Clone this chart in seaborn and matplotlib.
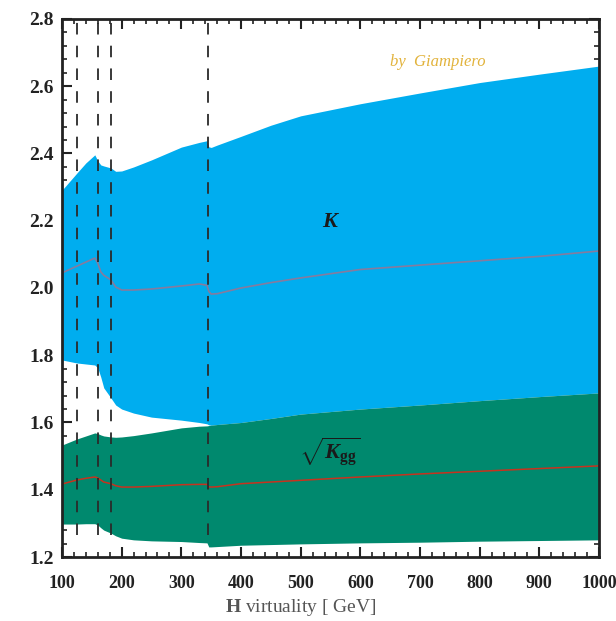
import numpy as np
import pandas as pd
import matplotlib
matplotlib.use('Agg')
import matplotlib.pyplot as plt
import seaborn as sns
from matplotlib.ticker import MultipleLocator

# Higgs virtuality grid [GeV]
mass = [100, 125, 140, 155, 160, 165, 170, 182, 190, 200, 220, 250, 300, 330,
        343, 346, 350, 360, 400, 450, 500, 600, 700, 800, 900, 1000]

# K band (blue) and central value
k_hi = [2.291, 2.342, 2.372, 2.396, 2.378, 2.366, 2.363, 2.357, 2.347, 2.348, 2.360, 2.381, 2.419, 2.433,
        2.438, 2.420, 2.418, 2.425, 2.451, 2.484, 2.512, 2.548, 2.580, 2.611, 2.636, 2.660]
k_lo = [1.786, 1.777, 1.774, 1.771, 1.762, 1.735, 1.703, 1.673, 1.652, 1.640, 1.628, 1.616, 1.607, 1.600,
        1.596, 1.593, 1.592, 1.594, 1.600, 1.612, 1.625, 1.640, 1.652, 1.665, 1.677, 1.688]
k_mid = [2.045, 2.065, 2.077, 2.089, 2.074, 2.048, 2.038, 2.024, 2.003, 1.994, 1.994, 1.997, 2.006, 2.012,
         2.008, 1.990, 1.982, 1.983, 2.000, 2.016, 2.030, 2.055, 2.068, 2.081, 2.094, 2.110]

# sqrt(K_gg) band (green) and central value
kgg_hi = [1.533, 1.551, 1.560, 1.569, 1.567, 1.563, 1.560, 1.557, 1.556, 1.557, 1.561, 1.569, 1.584, 1.589,
          1.590, 1.591, 1.592, 1.594, 1.600, 1.612, 1.625, 1.640, 1.652, 1.665, 1.677, 1.688]
kgg_lo = [1.298, 1.298, 1.299, 1.299, 1.295, 1.287, 1.280, 1.271, 1.263, 1.256, 1.251, 1.248, 1.246, 1.243,
          1.242, 1.230, 1.230, 1.231, 1.235, 1.237, 1.239, 1.242, 1.244, 1.247, 1.249, 1.251]
kgg_mid = [1.417, 1.429, 1.434, 1.438, 1.435, 1.429, 1.423, 1.418, 1.412, 1.408, 1.408, 1.410, 1.415, 1.416,
           1.416, 1.409, 1.408, 1.409, 1.418, 1.423, 1.428, 1.438, 1.447, 1.455, 1.463, 1.471]

# thresholds: mH, 2mW, 2mZ, 2mt
thresholds = [125, 160, 182, 345]

df = pd.DataFrame({'mass': mass, 'k_mid': k_mid, 'kgg_mid': kgg_mid})

sns.set_style('ticks')
plt.rcParams['font.family'] = ['Liberation Serif', 'DejaVu Serif']
plt.rcParams['mathtext.fontset'] = 'custom'
plt.rcParams['mathtext.rm'] = 'Liberation Serif'
plt.rcParams['mathtext.it'] = 'Liberation Serif:italic'
plt.rcParams['mathtext.bf'] = 'Liberation Serif:bold'
plt.rcParams['mathtext.bfit'] = 'Liberation Serif:italic:bold'

fig = plt.figure(figsize=(6.16, 6.21), dpi=100)
ax = fig.add_axes([62 / 616, 1 - 557 / 621, 537 / 616, 538 / 621])

ax.fill_between(mass, k_lo, k_hi, color='#00adef', linewidth=0)
ax.fill_between(mass, kgg_lo, kgg_hi, color='#00896e', linewidth=0)
sns.lineplot(data=df, x='mass', y='k_mid', ax=ax, color='#867b9e', linewidth=1.2)
sns.lineplot(data=df, x='mass', y='kgg_mid', ax=ax, color='#c8321e', linewidth=1.1)

ax.vlines(thresholds, 1.265, 2.795, colors='#2a2a2a', linewidth=1.3,
          linestyles=(0, (6.4, 6.2)))

ax.text(549, 2.196, 'K', ha='center', va='center', fontsize=16,
        fontstyle='italic', fontweight='bold', color='#1a1a1a')
ax.text(549, 1.512, r'$\sqrt{\mathbfit{K}_{\mathbf{gg}}}$', ha='center', va='center',
        fontsize=16, color='#1a1a1a')
ax.text(730, 2.672, 'by  Giampiero', ha='center', va='center', fontsize=12,
        fontstyle='italic', color='#e2b33c')

ax.set_xlim(100, 1000)
ax.set_ylim(1.2, 2.8)
ax.xaxis.set_major_locator(MultipleLocator(100))
ax.xaxis.set_minor_locator(MultipleLocator(20))
ax.yaxis.set_major_locator(MultipleLocator(0.2))
ax.yaxis.set_minor_locator(MultipleLocator(0.04))
ax.yaxis.set_major_formatter(matplotlib.ticker.FormatStrFormatter('%.1f'))

ax.tick_params(which='both', direction='in', top=True, right=True, color='#222222')
ax.tick_params(which='major', length=7, width=1.5)
ax.tick_params(which='minor', length=3.5, width=1.2)
ax.tick_params(axis='x', which='major', pad=13)
ax.tick_params(axis='y', which='major', pad=6)
for lab in ax.get_xticklabels():
    lab.set_fontweight('bold')
    lab.set_fontsize(13)
    lab.set_color('#222222')
for lab in ax.get_yticklabels():
    lab.set_fontweight('bold')
    lab.set_fontsize(14)
    lab.set_color('#222222')

for sp in ax.spines.values():
    sp.set_linewidth(2)
    sp.set_color('#222222')

ax.set_ylabel('')
ax.set_xlabel(r'$\mathbf{H}$ virtuality [ GeV]', fontsize=14, color='#555555', labelpad=2)
ax.xaxis.set_label_coords(0.445, -0.075)

fig.savefig('out.png', dpi=100)
